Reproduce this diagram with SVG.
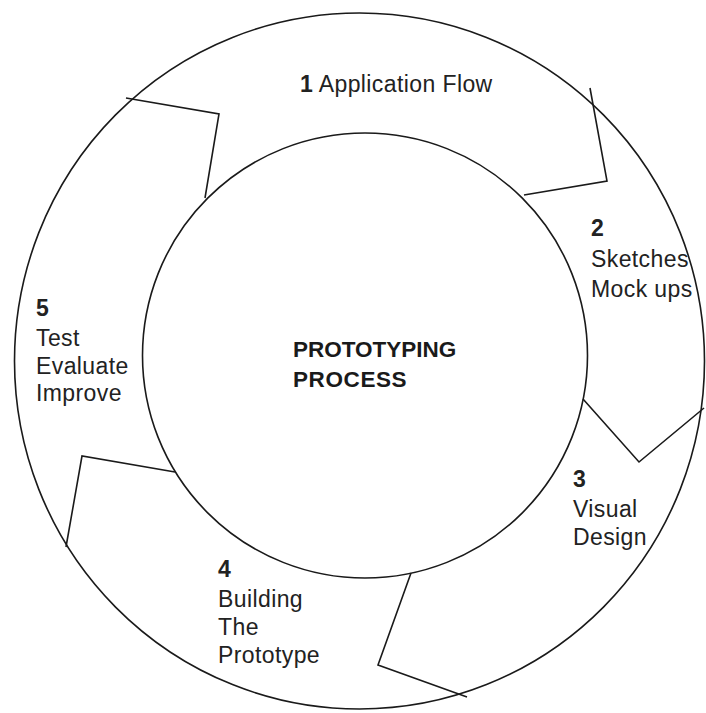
<svg xmlns="http://www.w3.org/2000/svg" width="706" height="713" viewBox="0 0 706 713">
<style>
.ln{fill:none;stroke:#1a1a1a;stroke-width:1.6;stroke-linejoin:miter}
.t{font-family:"Liberation Sans",Arial,sans-serif;font-size:23px;fill:#222;letter-spacing:0.4px}
.b{font-weight:bold}
.c{font-family:"Liberation Sans",Arial,sans-serif;font-size:22.5px;font-weight:bold;fill:#1a1a1a}
</style>
<rect width="706" height="713" fill="#fff"/>
<g id="ring">
<ellipse class="ln" cx="359.5" cy="361" rx="345" ry="348"/>
<circle class="ln" cx="365" cy="355.5" r="222.5"/>
</g>
<g id="connectors">
<polyline class="ln" points="126,98 219,114 205,198"/>
<polyline class="ln" points="590,88 607,181 524,195"/>
<polyline class="ln" points="583,399 639,462 704,408"/>
<polyline class="ln" points="411,573 378,665 467,697"/>
<polyline class="ln" points="175,472 82,456 66,547"/>
</g>
<g id="center">
<text class="c" x="293" y="357">PROTOTYPING</text>
<text class="c" x="293" y="387" letter-spacing="0.6">PROCESS</text>
</g>
<g id="step1">
<text class="t" x="300" y="92"><tspan class="b">1</tspan> Application Flow</text>
</g>
<g id="step2">
<text class="t b" x="591" y="236">2</text>
<text class="t" x="591" y="267">Sketches</text>
<text class="t" x="591" y="297">Mock ups</text>
</g>
<g id="step3">
<text class="t b" x="573" y="487">3</text>
<text class="t" x="573" y="517">Visual</text>
<text class="t" x="573" y="545">Design</text>
</g>
<g id="step4">
<text class="t b" x="218" y="577">4</text>
<text class="t" x="218" y="607">Building</text>
<text class="t" x="218" y="635">The</text>
<text class="t" x="218" y="663">Prototype</text>
</g>
<g id="step5">
<text class="t b" x="36" y="316">5</text>
<text class="t" x="36" y="346">Test</text>
<text class="t" x="36" y="374">Evaluate</text>
<text class="t" x="36" y="401">Improve</text>
</g>
</svg>
